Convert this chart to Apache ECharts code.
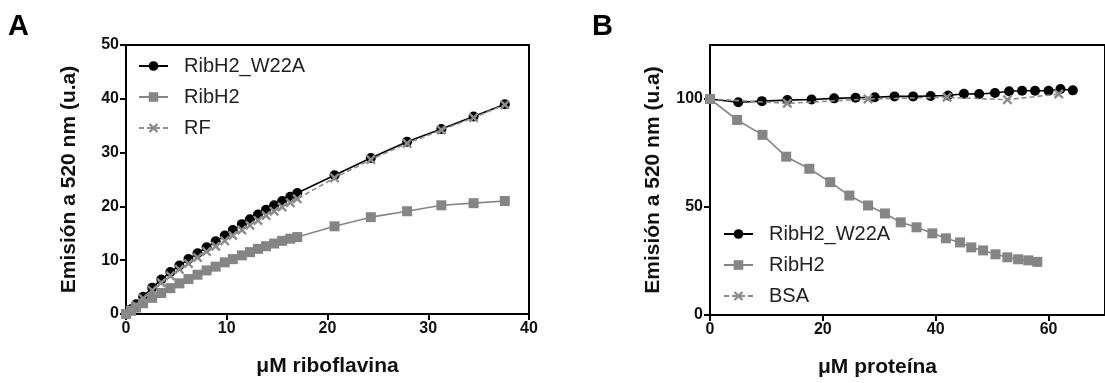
<!DOCTYPE html>
<html>
<head>
<meta charset="utf-8">
<script src="https://cdn.jsdelivr.net/npm/echarts@6/dist/echarts.min.js"></script>
<style>
html,body{margin:0;padding:0;background:#fff;}
#chart{width:1105px;height:383px;}
</style>
</head>
<body>
<div id="chart"></div>
<script>
// ---------- Panel A data (µM riboflavina vs emission) ----------
const xA = [0, 0.5, 1.0, 1.7, 2.6, 3.5, 4.4, 5.3, 6.2, 7.1, 8.0, 8.9, 9.8, 10.6, 11.5, 12.3, 13.1, 13.9, 14.7, 15.5, 16.3, 17.0, 20.7, 24.3, 27.9, 31.3, 34.5, 37.6];
const aW22A = [0, 0.9, 1.8, 3.2, 4.9, 6.4, 7.8, 9.0, 10.2, 11.3, 12.4, 13.5, 14.6, 15.6, 16.7, 17.6, 18.5, 19.4, 20.2, 21.0, 21.8, 22.5, 25.8, 29.0, 32.0, 34.4, 36.7, 39.0];
const aRibH2 = [0, 0.6, 1.2, 2.0, 3.0, 3.9, 4.8, 5.7, 6.5, 7.3, 8.1, 8.8, 9.6, 10.2, 10.9, 11.5, 12.1, 12.6, 13.1, 13.6, 14.0, 14.3, 16.3, 18.0, 19.1, 20.2, 20.6, 21.0];
const aRF = [0, 0.8, 1.6, 2.9, 4.4, 5.8, 7.1, 8.3, 9.4, 10.5, 11.6, 12.6, 13.6, 14.6, 15.6, 16.5, 17.4, 18.3, 19.1, 19.9, 20.7, 21.4, 25.3, 28.7, 31.7, 34.2, 36.5, 38.9];

// ---------- Panel B data (µM proteína vs emission) ----------
const xB_W22A = [0, 5.0, 9.2, 13.7, 18.0, 22.0, 25.8, 29.2, 32.7, 36.0, 39.1, 42.2, 45.0, 47.7, 50.5, 53.0, 55.3, 57.6, 60.0, 62.1, 64.3];
const bW22A = [100, 98.5, 99.0, 99.5, 99.8, 100.3, 100.6, 100.8, 101.2, 101.2, 101.4, 101.6, 102.4, 102.3, 102.8, 103.6, 103.8, 103.8, 103.8, 104.6, 104.0];
const xB_RibH2 = [0, 4.8, 9.3, 13.5, 17.6, 21.3, 24.7, 28.0, 31.0, 33.8, 36.6, 39.4, 41.8, 44.3, 46.3, 48.4, 50.6, 52.7, 54.6, 56.4, 58.0];
const bRibH2 = [100, 90.3, 83.4, 73.3, 67.7, 61.5, 55.3, 50.7, 47.0, 42.9, 40.6, 37.8, 35.5, 33.6, 31.3, 29.9, 28.1, 26.7, 25.8, 25.3, 24.6];
const xB_BSA = [0, 13.7, 28.0, 42.0, 52.7, 61.8];
const bBSA = [100, 98.0, 100.0, 100.8, 99.7, 102.3];

// ---------- labels ----------
const yTitle = 'Emisión a 520 nm (u.a)';
const xTitleA = 'μM riboflavina';
const xTitleB = 'μM proteína';
const namesA = ['RibH2_W22A', 'RibH2', 'RF'];
const namesB = ['RibH2_W22A', 'RibH2', 'BSA'];
const ticksYB = [0, 50, 100];

const zip = (xs, ys) => xs.map((x, i) => [x, ys[i]]);
const FONT = '"Liberation Sans", Arial, sans-serif';
const XMARK = 'path://M0,0.17 L0.17,0 L0.5,0.33 L0.83,0 L1,0.17 L0.67,0.5 L1,0.83 L0.83,1 L0.5,0.67 L0.17,1 L0,0.83 L0.33,0.5 Z';
const GRAY = '#858585';

function styleW22A(name, data, xi) {
  return { name, type: 'line', xAxisIndex: xi, yAxisIndex: xi, data, clip: false,
    symbol: 'circle', symbolSize: 10, color: '#000',
    itemStyle: { color: '#000' }, lineStyle: { color: '#000', width: 1.6 }, z: 2 };
}
function styleRibH2(name, data, xi) {
  return { name, type: 'line', xAxisIndex: xi, yAxisIndex: xi, data, clip: false,
    symbol: 'rect', symbolSize: 10, color: GRAY,
    itemStyle: { color: GRAY }, lineStyle: { color: GRAY, width: 1.6 }, z: 3 };
}
function styleX(name, data, xi) {
  return { name, type: 'line', xAxisIndex: xi, yAxisIndex: xi, data, clip: false,
    symbol: XMARK, symbolSize: 10, color: '#8c8c8c',
    itemStyle: { color: '#8c8c8c' }, lineStyle: { color: '#8c8c8c', width: 1.6, type: [5, 3] }, z: 4 };
}

const axisLine = { show: true, lineStyle: { color: '#000', width: 2 } };
const axisTick = { show: true, length: 6, lineStyle: { color: '#000', width: 2 } };
const axisLabel = { color: '#111', fontSize: 16, fontWeight: 'bold', fontFamily: FONT, margin: 7 };
const nameStyle = { color: '#111', fontSize: 21, fontWeight: 'bold', fontFamily: FONT };
const legendText = { fontSize: 20, color: '#222', fontFamily: FONT, padding: [0, 0, 0, 11] };

const chart = echarts.init(document.getElementById('chart'));
chart.setOption({
  animation: false,
  backgroundColor: '#fff',
  textStyle: { fontFamily: FONT },
  grid: [
    { left: 126, top: 45, right: 576, bottom: 69, show: true, borderColor: '#000', borderWidth: 2, backgroundColor: 'transparent' },
    { left: 710, top: 45, right: -10, bottom: 68, show: true, borderColor: '#000', borderWidth: 2, backgroundColor: 'transparent' }
  ],
  xAxis: [
    { type: 'value', gridIndex: 0, min: 0, max: 40, interval: 10, axisLine, axisTick, axisLabel,
      splitLine: { show: false }, name: xTitleA, nameLocation: 'middle', nameGap: 42, nameTextStyle: nameStyle },
    { type: 'value', gridIndex: 1, min: 0, max: 70, interval: 20, axisLine, axisTick, axisLabel: Object.assign({}, axisLabel, { showMaxLabel: false }),
      splitLine: { show: false }, name: xTitleB, nameLocation: 'middle', nameGap: 42,
      nameTextStyle: Object.assign({}, nameStyle, { padding: [0, 60, 0, 0] }) }
  ],
  yAxis: [
    { type: 'value', gridIndex: 0, min: 0, max: 50, interval: 10, axisLine, axisTick, axisLabel,
      splitLine: { show: false }, name: yTitle, nameLocation: 'middle', nameGap: 46, nameTextStyle: nameStyle },
    { type: 'value', gridIndex: 1, min: 0, max: 125, interval: 50, axisLine,
      axisTick: Object.assign({}, axisTick, { customValues: ticksYB }),
      axisLabel: Object.assign({}, axisLabel, { customValues: ticksYB }),
      splitLine: { show: false }, name: yTitle, nameLocation: 'middle', nameGap: 46, nameTextStyle: nameStyle }
  ],
  legend: [
    { data: namesA, orient: 'vertical', left: 133, top: 51, itemWidth: 29, itemHeight: 12, itemGap: 11,
      textStyle: legendText, selectedMode: false },
    { data: namesB, orient: 'vertical', left: 718, top: 219, itemWidth: 29, itemHeight: 12, itemGap: 11,
      textStyle: legendText, selectedMode: false }
  ],
  graphic: [
    { type: 'text', left: 8, top: 12, style: { text: 'A', fontSize: 29, fontWeight: 'bold', fontFamily: FONT, fill: '#000' } },
    { type: 'text', left: 592, top: 12, style: { text: 'B', fontSize: 29, fontWeight: 'bold', fontFamily: FONT, fill: '#000' } }
  ],
  series: [
    styleW22A(namesA[0], zip(xA, aW22A), 0),
    styleRibH2(namesA[1], zip(xA, aRibH2), 0),
    styleX(namesA[2], zip(xA, aRF), 0),
    styleW22A(namesB[0], zip(xB_W22A, bW22A), 1),
    styleRibH2(namesB[1], zip(xB_RibH2, bRibH2), 1),
    styleX(namesB[2], zip(xB_BSA, bBSA), 1)
  ]
});
</script>
</body>
</html>
